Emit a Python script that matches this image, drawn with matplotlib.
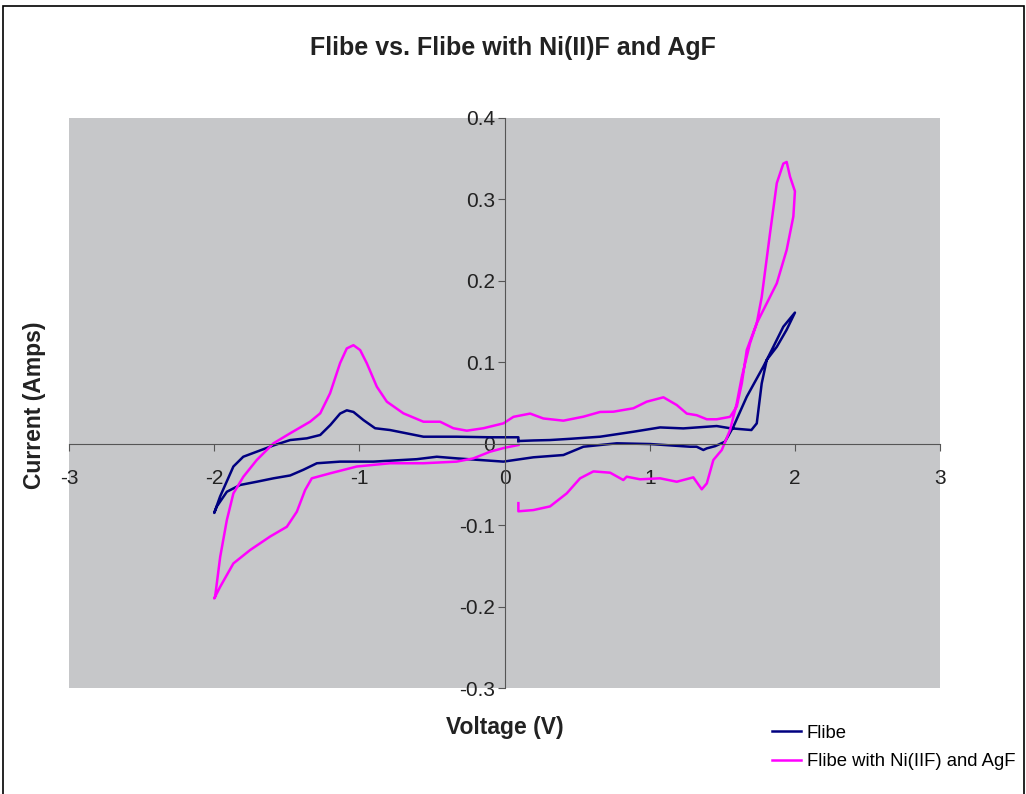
import matplotlib
matplotlib.use("Agg")
from matplotlib import pyplot as plt
from matplotlib.patches import Rectangle

plt.rcParams['font.family'] = ['Liberation Sans', 'DejaVu Sans']
plt.rcParams['axes.unicode_minus'] = False

# Flibe loop: starts near 0.1 V, sweeps up to 2 V, down to -2 V and back
flibe_v = [0.095, 0.20, 0.313, 0.45, 0.658, 0.887, 1.071, 1.231, 1.461, 1.553, 1.62, 1.70, 1.737,
           1.771, 1.806, 1.875, 1.943, 2.0,
           1.92, 1.84, 1.782, 1.668, 1.576, 1.518, 1.45, 1.393, 1.369, 1.323, 1.278, 1.002, 0.773,
           0.543, 0.405, 0.198, -0.008, -0.33, -0.467, -0.605, -0.904, -1.133, -1.293, -1.386,
           -1.477, -1.592, -1.707, -1.822, -1.913, -1.982, -2.0,
           -1.96, -1.868, -1.80, -1.707, -1.59, -1.477, -1.362, -1.27, -1.20, -1.133, -1.087,
           -1.041, -0.972, -0.892, -0.789, -0.559, -0.33, -0.10, 0.095, 0.095]
flibe_i = [0.0033, 0.004, 0.0045, 0.006, 0.0086, 0.0147, 0.020, 0.0188, 0.0217, 0.019, 0.018, 0.0168, 0.025,
           0.074, 0.103, 0.119, 0.140, 0.161,
           0.1437, 0.115, 0.0946, 0.0577, 0.0209, 0.0025, -0.003, -0.0057, -0.0077, -0.0037, -0.0037,
           -0.0004, 0.0005, -0.0037, -0.0139, -0.0167, -0.022, -0.018, -0.016, -0.019, -0.022, -0.022,
           -0.024, -0.032, -0.039, -0.0425, -0.0467, -0.0507, -0.059, -0.077, -0.085,
           -0.065, -0.028, -0.016, -0.0098, -0.002, 0.0045, 0.0066, 0.0107, 0.023, 0.037, 0.041,
           0.039, 0.029, 0.019, 0.0168, 0.0086, 0.0086, 0.0079, 0.0079, 0.0033]

# Flibe with Ni(II)F and AgF
salt_v = [0.095, 0.095, 0.198, 0.313, 0.428, 0.52, 0.612, 0.727, 0.818, 0.841, 0.933, 1.071, 1.186,
          1.30, 1.358, 1.393, 1.438, 1.496, 1.553, 1.599, 1.634, 1.69, 1.737, 1.771, 1.828, 1.875,
          1.92, 1.943, 1.966, 2.0,
          1.989, 1.943, 1.875, 1.806, 1.737, 1.668, 1.634, 1.599, 1.553, 1.461, 1.393, 1.323, 1.255,
          1.186, 1.094, 0.979, 0.887, 0.749, 0.658, 0.543, 0.405, 0.267, 0.176, 0.061, -0.008,
          -0.146, -0.26, -0.353, -0.444, -0.559, -0.697, -0.811, -0.88, -0.949, -0.995, -1.041,
          -1.087, -1.133, -1.202, -1.27, -1.34, -1.477, -1.592, -1.707, -1.799, -1.868, -1.913,
          -1.959, -1.994, -2.0,
          -1.959, -1.868, -1.753, -1.615, -1.50, -1.431, -1.374, -1.328, -1.202, -1.018, -0.789,
          -0.559, -0.33, -0.215, -0.10, 0.0, 0.095]
salt_i = [-0.073, -0.083, -0.0815, -0.077, -0.061, -0.0425, -0.034, -0.0356, -0.0446, -0.0405,
          -0.0437, -0.0425, -0.0467, -0.0413, -0.056, -0.0487, -0.020, -0.0077, 0.0168, 0.0496,
          0.082, 0.123, 0.148, 0.18, 0.258, 0.32, 0.344, 0.346, 0.328, 0.31,
          0.279, 0.238, 0.197, 0.1725, 0.148, 0.115, 0.074, 0.0455, 0.033, 0.030, 0.030, 0.035,
          0.037, 0.0475, 0.057, 0.0516, 0.0435, 0.0393, 0.039, 0.0332, 0.0283, 0.031, 0.037, 0.033,
          0.025, 0.019, 0.016, 0.019, 0.027, 0.027, 0.0373, 0.0516, 0.070, 0.0988, 0.115, 0.121,
          0.117, 0.099, 0.062, 0.0373, 0.027, 0.0128, 0.0005, -0.020, -0.0405, -0.061, -0.0937,
          -0.139, -0.188, -0.19,
          -0.1757, -0.147, -0.1306, -0.114, -0.102, -0.0835, -0.0569, -0.0425, -0.0364, -0.028,
          -0.024, -0.024, -0.022, -0.018, -0.0098, -0.005, -0.0016]

x_ticks = [-3, -2, -1, 0, 1, 2, 3]
y_ticks = [-0.3, -0.2, -0.1, 0, 0.1, 0.2, 0.3, 0.4]
y_labels = ["-0.3", "-0.2", "-0.1", "0", "0.1", "0.2", "0.3", "0.4"]

fig = plt.figure(figsize=(10.26, 7.94), dpi=100, facecolor="white")
fig.patches.append(Rectangle((0.003, -0.01), 0.995, 1.002, transform=fig.transFigure,
                             fill=False, edgecolor="black", linewidth=1.2))

ax = fig.add_axes([0.0673, 0.1335, 0.849, 0.7179])
ax.set_facecolor("#c6c7c9")

ax.plot(flibe_v, flibe_i, color="#000080", linewidth=1.8, label="Flibe")
ax.plot(salt_v, salt_i, color="#ff00ff", linewidth=1.8, label="Flibe with Ni(IIF) and AgF")

ax.set_xlim(-3, 3)
ax.set_ylim(-0.3, 0.4)
ax.set_xticks(x_ticks)
ax.set_yticks(y_ticks)
ax.set_yticklabels(y_labels)

ax.spines['left'].set_position(('data', 0))
ax.spines['bottom'].set_position(('data', 0))
ax.spines['top'].set_visible(False)
ax.spines['right'].set_visible(False)
ax.spines['left'].set_color("#555555")
ax.spines['bottom'].set_color("#555555")
ax.tick_params(axis='both', direction='out', length=5, color="#555555",
               labelsize=15, labelcolor="#222222")
ax.tick_params(axis='y', pad=2)
ax.tick_params(axis='x', pad=13)

fig.text(0.5, 0.94, "Flibe vs. Flibe with Ni(II)F and AgF", ha="center", va="center",
         fontsize=18, fontweight="bold", color="#222222")
fig.text(0.492, 0.084, "Voltage (V)", ha="center", va="center",
         fontsize=16.5, fontweight="bold", color="#222222")
fig.text(0.034, 0.49, "Current (Amps)", ha="center", va="center", rotation=90,
         fontsize=16.5, fontweight="bold", color="#222222")

fig.legend(loc="upper left", bbox_to_anchor=(0.752, 0.087), frameon=False,
           fontsize=13.3, handlelength=1.6, handletextpad=0.3, labelspacing=0.6,
           borderaxespad=0, borderpad=0)

fig.savefig("out.png", dpi=100, facecolor="white")
